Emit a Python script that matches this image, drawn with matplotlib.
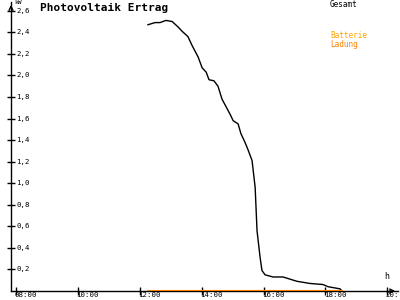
import matplotlib
matplotlib.use("Agg")
import matplotlib.pyplot as plt

# Gesamt (kW) over time of day (hours)
hours = [12.27, 12.50, 12.66, 12.85, 13.05, 13.24, 13.37, 13.56, 13.69, 13.89,
         14.02, 14.15, 14.24, 14.40, 14.53, 14.66, 14.92, 15.02, 15.18, 15.27,
         15.40, 15.50, 15.63, 15.73, 15.79, 15.89, 15.95, 16.05, 16.31, 16.63,
         17.08, 17.50, 17.92, 18.08, 18.47, 18.53]
gesamt = [2.47, 2.49, 2.49, 2.51, 2.50, 2.45, 2.41, 2.36, 2.28, 2.17,
          2.07, 2.03, 1.96, 1.95, 1.90, 1.78, 1.64, 1.58, 1.55, 1.46,
          1.38, 1.31, 1.21, 0.96, 0.56, 0.31, 0.19, 0.15, 0.13, 0.13,
          0.09, 0.07, 0.06, 0.04, 0.02, 0.0]

# Batterie Ladung stays at zero
lade_hours = [12.27, 18.53]
ladung = [0.0, 0.0]

xticks = [8, 10, 12, 14, 16, 18, 20]
xlabels = ["08:00", "10:00", "12:00", "14:00", "16:00", "18:00", "20:"]
yticks = [0.2, 0.4, 0.6, 0.8, 1.0, 1.2, 1.4, 1.6, 1.8, 2.0, 2.2, 2.4, 2.6]

mono = "DejaVu Sans Mono"

fig = plt.figure(figsize=(4, 3), dpi=100)
ax = fig.add_axes([0.0275, 0.03, 0.9675, 0.963])
ax.set_xlim(7.85, 20.34)
ax.set_ylim(0, 2.68)

ax.plot(lade_hours, ladung, color="#FF8000", lw=1.5, zorder=4)
ax.plot(hours, gesamt, color="black", lw=1, zorder=3)

for s in ["top", "right"]:
    ax.spines[s].set_visible(False)
ax.spines["left"].set_linewidth(1)
ax.spines["bottom"].set_linewidth(1)

ax.set_xticks(xticks)
ax.set_xticklabels([])
ax.set_yticks(yticks)
ax.set_yticklabels([])
ax.tick_params(axis="both", direction="inout", length=6, width=1)

for t, lab in zip(xticks, xlabels):
    ax.text(t - 0.05, -0.005, lab, transform=ax.get_xaxis_transform(),
            ha="left", va="top", fontsize=5.3, family=mono, clip_on=False)
for v in yticks:
    ax.text(0.013, v, ("%.1f" % v).replace(".", ","), transform=ax.get_yaxis_transform(),
            ha="left", va="center", fontsize=5.3, family=mono)

# axis arrows (open heads)
ax.annotate("", xy=(1.0, 0), xytext=(0.97, 0), xycoords="axes fraction",
            arrowprops=dict(arrowstyle="->", lw=1, color="black", mutation_scale=7),
            annotation_clip=False)
ax.annotate("", xy=(0, 1.0), xytext=(0, 0.97), xycoords="axes fraction",
            arrowprops=dict(arrowstyle="->", lw=1, color="black", mutation_scale=7),
            annotation_clip=False)

fig.text(0.036, 1.0, "kW", fontsize=4.5, family=mono, va="top")
ax.text(0.965, 0.035, "h", transform=ax.transAxes, fontsize=6, family=mono, va="bottom")
fig.text(0.1, 0.972, "Photovoltaik Ertrag", fontsize=8, family=mono,
         fontweight="bold", va="center")
fig.text(0.825, 0.985, "Gesamt", fontsize=5.5, family=mono, va="center")
fig.text(0.825, 0.88, "Batterie", fontsize=5.5, family=mono, va="center", color="#FFA500")
fig.text(0.825, 0.853, "Ladung", fontsize=5.5, family=mono, va="center", color="#FF8000")

fig.savefig("out.png", dpi=100)
